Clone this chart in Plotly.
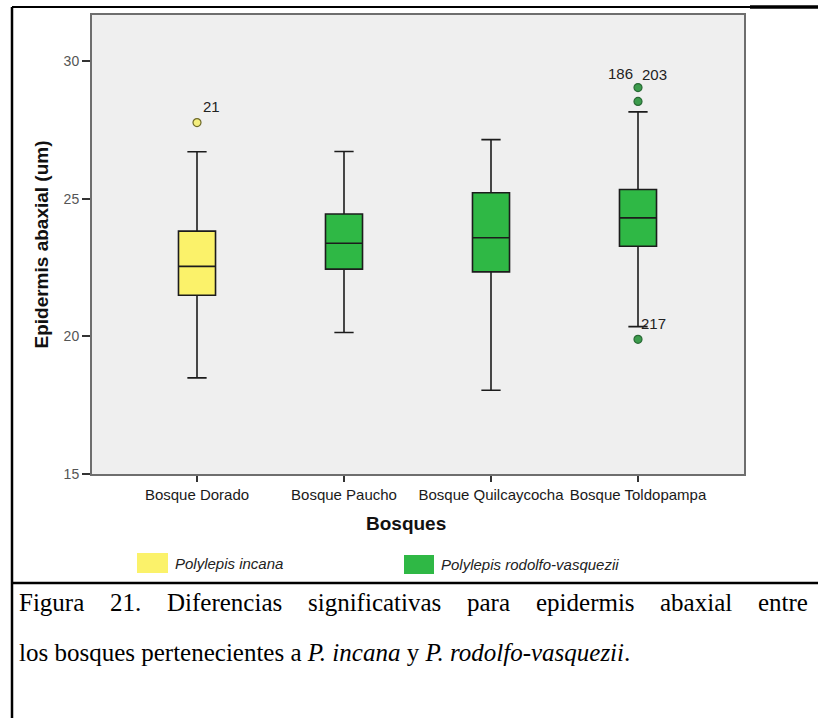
import plotly.graph_objects as go

# data (box summaries per forest)
bosques = ["Bosque Dorado", "Bosque Paucho", "Bosque Quilcaycocha", "Bosque Toldopampa"]
especie = ["Polylepis incana", "Polylepis rodolfo-vasquezii", "Polylepis rodolfo-vasquezii", "Polylepis rodolfo-vasquezii"]
q1 = [21.49, 22.44, 22.34, 23.27]
mediana = [22.54, 23.38, 23.58, 24.30]
q3 = [23.82, 24.44, 25.21, 25.33]
bigote_inf = [18.49, 20.14, 18.04, 20.35]
bigote_sup = [26.70, 26.71, 27.14, 28.15]

# outliers: position (bosque index), value, case id
out_bosque = [0, 3, 3, 3]
out_valor = [27.76, 29.03, 28.53, 19.89]
out_id = ["21", "186", "203", "217"]

colores = {"Polylepis incana": "#FBF26A", "Polylepis rodolfo-vasquezii": "#2FB845"}
borde_out = {"Polylepis incana": "#6E6A2A", "Polylepis rodolfo-vasquezii": "#2A6A36"}
relleno_out = {"Polylepis incana": "#F4EE7E", "Polylepis rodolfo-vasquezii": "#3C9C4C"}

W, H = 818, 718
L, R, T, B = 92, 744, 15, 474
sans = "Liberation Sans, Arial"


def px(x):
    return (x - L) / (R - L)


def py(y):
    return (B - y) / (B - T)


fig = go.Figure()

for sp in ["Polylepis incana", "Polylepis rodolfo-vasquezii"]:
    idx = [i for i, e in enumerate(especie) if e == sp]
    fig.add_trace(go.Box(
        x=idx,
        q1=[q1[i] for i in idx],
        median=[mediana[i] for i in idx],
        q3=[q3[i] for i in idx],
        lowerfence=[bigote_inf[i] for i in idx],
        upperfence=[bigote_sup[i] for i in idx],
        width=0.252,
        whiskerwidth=0.52,
        fillcolor=colores[sp],
        line=dict(color="#1c1c1c", width=1.6),
        boxpoints=False,
        name=sp,
        showlegend=False,
        hoverinfo="skip",
    ))

fig.add_trace(go.Scatter(
    x=out_bosque, y=out_valor, mode="markers",
    marker=dict(size=8,
                color=[relleno_out[especie[b]] for b in out_bosque],
                line=dict(color=[borde_out[especie[b]] for b in out_bosque], width=1.2)),
    showlegend=False, hoverinfo="skip",
))

# case labels
shifts = {"21": (14, 16), "186": (-18, 14), "203": (16, 27), "217": (15, 16)}
for b, v, t in zip(out_bosque, out_valor, out_id):
    dx, dy = shifts[t]
    fig.add_annotation(x=b, y=v, text=t, showarrow=False, xshift=dx, yshift=dy,
                       xanchor="center", yanchor="middle",
                       font=dict(family=sans, size=15, color="#222222"))

fig.update_xaxes(
    range=[(L - 197) / 147, (R - 197) / 147],
    tickvals=list(range(len(bosques))), ticktext=bosques,
    ticks="outside", ticklen=6, tickwidth=1.5, tickcolor="#333333",
    tickfont=dict(family=sans, size=15, color="#1a1a1a"),
    showgrid=False, zeroline=False,
    showline=True, linecolor="#6e6e6e", linewidth=2, mirror=True,
)
fig.update_yaxes(
    range=[15, 30 + (61 - T) / 27.6],
    tickvals=[15, 20, 25, 30],
    ticks="outside", ticklen=8, tickwidth=2, tickcolor="#333333",
    tickfont=dict(family=sans, size=14, color="#555555"),
    showgrid=False, zeroline=False,
    showline=True, linecolor="#6e6e6e", linewidth=2, mirror=True,
    title=dict(text="<b>Epidermis abaxial (um)</b>", standoff=10,
               font=dict(family=sans, size=19, color="#111111")),
)

# x axis title
fig.add_annotation(x=px(406), y=py(523), xref="paper", yref="paper", text="<b>Bosques</b>",
                   showarrow=False, xanchor="center", yanchor="middle",
                   font=dict(family=sans, size=19, color="#111111"))

# legend drawn by hand (SPSS style)
leyenda = [("Polylepis incana", 137, 553, 168, 573, 173),
           ("Polylepis rodolfo-vasquezii", 404, 555, 434, 574, 439)]
for sp, x0, y0, x1, y1, xt in leyenda:
    fig.add_shape(type="rect", xref="paper", yref="paper",
                  x0=px(x0), x1=px(x1), y0=py(y1), y1=py(y0),
                  fillcolor=colores[sp], line=dict(width=0))
    fig.add_annotation(x=px(xt), y=py((y0 + y1) / 2), xref="paper", yref="paper",
                       text="<i>" + sp + "</i>", showarrow=False, xanchor="left", yanchor="middle",
                       font=dict(family=sans, size=15, color="#222222"))

# frame lines of the document
marco = [(12, 7, 750, 7, 2), (750, 7, 818, 7, 3.5), (12, 7, 12, 718, 2.5), (12, 583, 818, 583, 2.5)]
for x0, y0, x1, y1, w in marco:
    fig.add_shape(type="line", xref="paper", yref="paper",
                  x0=px(x0), y0=py(y0), x1=px(x1), y1=py(y1),
                  line=dict(color="black", width=w))

# caption; the first line is justified in the original, so the words are spread
# over the line using Times widths (per 1000 em)
serif_size = 25
serif = dict(family="Liberation Serif, Times New Roman", size=serif_size, color="black")
ancho = {"F": 556, "D": 722, "1": 500, "2": 500, ".": 250, "a": 444, "b": 500, "c": 444,
         "d": 500, "e": 444, "f": 333, "g": 500, "i": 278, "l": 278, "m": 778, "n": 500,
         "p": 500, "r": 333, "s": 389, "t": 278, "u": 500, "v": 500, "x": 500}
linea1 = "Figura 21. Diferencias significativas para epidermis abaxial entre".split()
x_ini, x_fin = 17, 806
anchos = [sum(ancho[c] for c in w) * serif_size / 1000 for w in linea1]
hueco = (x_fin - x_ini - sum(anchos)) / (len(linea1) - 1)
xw = x_ini
for palabra, a in zip(linea1, anchos):
    fig.add_annotation(x=px(xw), y=py(602), xref="paper", yref="paper", xanchor="left", yanchor="middle",
                       text=palabra, showarrow=False, font=serif)
    xw += a + hueco
fig.add_annotation(x=px(x_ini), y=py(652), xref="paper", yref="paper", xanchor="left", yanchor="middle",
                   text="los bosques pertenecientes a <i>P. incana</i> y <i>P. rodolfo-vasquezii</i>.",
                   showarrow=False, font=serif)

fig.update_layout(
    width=W, height=H,
    margin=dict(l=L, r=W - R, t=T, b=H - B, pad=0),
    paper_bgcolor="white", plot_bgcolor="#efefef",
    showlegend=False,
)

fig.write_html("out.html", config={"displayModeBar": False},
               post_script="document.body.style.margin='0';")
